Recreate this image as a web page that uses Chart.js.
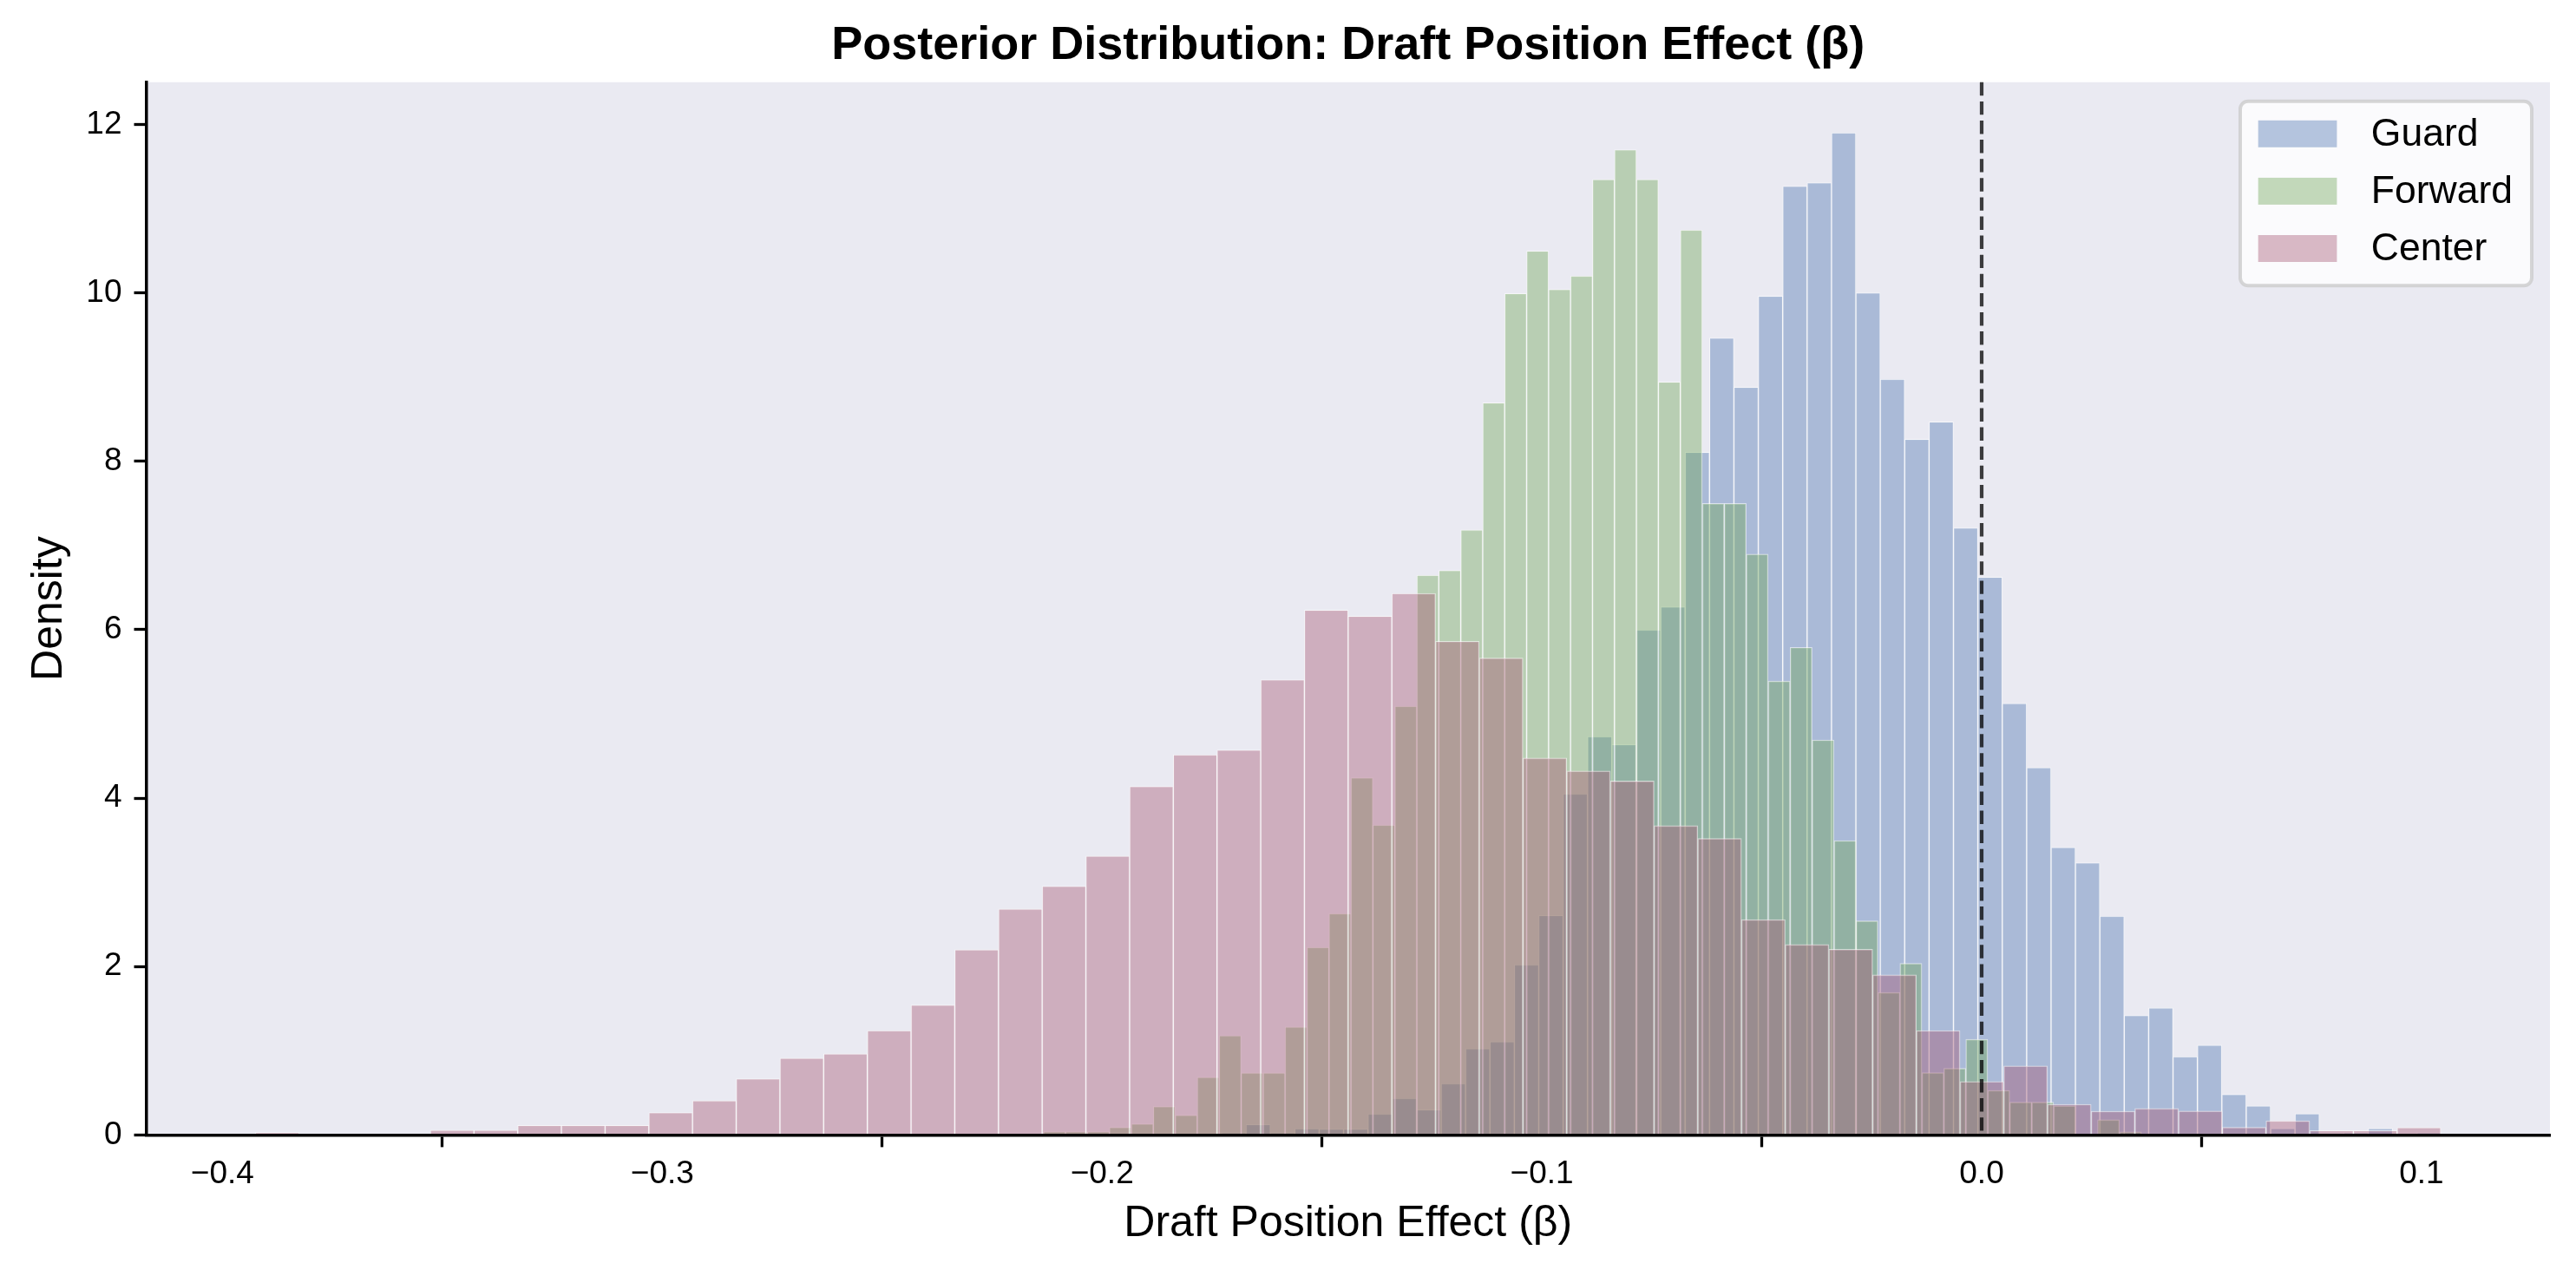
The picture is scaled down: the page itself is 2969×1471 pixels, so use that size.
<!DOCTYPE html>
<html>
<head>
<meta charset="utf-8">
<script src="https://cdn.jsdelivr.net/npm/chart.js@4.4.1/dist/chart.umd.min.js"></script>
<style>
  html, body { margin: 0; padding: 0; background: #fff; }
  #wrap { width: 2969px; height: 1471px; }
</style>
</head>
<body>
<div id="wrap"><canvas id="chart"></canvas></div>
<script>
const seriesNames = ['Guard', 'Forward', 'Center'];

// histogram bins: left edge of the first bin and bin width (β units), 50 bins each
const guardBinStart = -0.17282;
const guardBinWidth = 0.005547;
const forwardBinStart = -0.21331;
const forwardBinWidth = 0.004993;
const centerBinStart = -0.39250;
const centerBinWidth = 0.009938;

// density per bin
const guardDensity = [
  0.027, 0.124, 0.027, 0.075, 0.069, 0.069, 0.250, 0.435, 0.300, 0.610,
  1.025, 1.107, 2.021, 2.606, 4.050, 4.731, 4.635, 5.998, 6.271, 8.107,
  9.463, 8.878, 9.960, 11.267, 11.307, 11.901, 10.000, 8.974, 8.260, 8.468,
  7.209, 6.624, 5.124, 4.363, 3.416, 3.232, 2.598, 1.420, 1.510, 0.930,
  1.067, 0.481, 0.347, 0.079, 0.254, 0.000, 0.027, 0.079, 0.000, 0.027
];
const forwardDensity = [
  0.040, 0.040, 0.040, 0.090, 0.131, 0.338, 0.235, 0.686, 1.179, 0.738,
  0.738, 1.283, 2.229, 2.630, 4.242, 3.681, 5.092, 6.648, 6.704, 7.185,
  8.693, 9.992, 10.497, 10.040, 10.200, 11.347, 11.700, 11.347, 8.942, 10.746,
  7.498, 7.498, 6.897, 5.389, 5.790, 4.691, 3.496, 2.542, 1.692, 2.037,
  0.740, 0.790, 1.136, 0.529, 0.389, 0.389, 0.347, 0.000, 0.181, 0.038
];
const centerDensity = [
  0.028, 0.000, 0.000, 0.000, 0.057, 0.057, 0.114, 0.114, 0.114, 0.265,
  0.407, 0.667, 0.913, 0.965, 1.240, 1.543, 2.201, 2.683, 2.953, 3.313,
  4.138, 4.515, 4.571, 5.405, 6.231, 6.159, 6.431, 5.862, 5.662, 4.475,
  4.322, 4.202, 3.673, 3.520, 2.558, 2.261, 2.205, 1.901, 1.240, 0.635,
  0.820, 0.365, 0.282, 0.315, 0.285, 0.090, 0.168, 0.053, 0.053, 0.088
];

const xTicks = [-0.4, -0.3, -0.2, -0.1, 0.0, 0.1];
const yTicks = [0, 2, 4, 6, 8, 10, 12];
const xRange = [-0.41734, 0.12922];
const yRange = [0, 12.5];
const refLineX = 0;

const seriesColors = ['rgba(76,114,176,0.4)', 'rgba(110,165,85,0.4)', 'rgba(165,85,112,0.4)'];
const FONT = "'Liberation Sans', Arial, sans-serif";

function toBars(start, width, values) {
  return values.map((v, i) => ({ x: start + width * (i + 0.5), y: v }));
}

function fmtX(v) {
  const s = Math.abs(v).toFixed(1);
  return v < -1e-9 ? '\u2212' + s : s;
}

const hiddenX = {
  type: 'linear', display: false, position: 'bottom',
  min: xRange[0], max: xRange[1], offset: false
};

const plotBg = {
  id: 'plotBg',
  beforeDraw(chart) {
    const { ctx, chartArea: a } = chart;
    ctx.save();
    ctx.fillStyle = '#EAEAF2';
    ctx.fillRect(a.left, a.top, a.right - a.left, a.bottom - a.top);
    ctx.restore();
  }
};

const refLine = {
  id: 'refLine',
  afterDatasetsDraw(chart) {
    const { ctx, chartArea: a, scales } = chart;
    const px = scales.x.getPixelForValue(refLineX);
    ctx.save();
    ctx.strokeStyle = 'rgba(0,0,0,0.75)';
    ctx.lineWidth = 4.2;
    ctx.setLineDash([15.4, 6.7]);
    ctx.beginPath();
    ctx.moveTo(px, a.top);
    ctx.lineTo(px, a.bottom);
    ctx.stroke();
    ctx.restore();
  }
};

const boxLegend = {
  id: 'boxLegend',
  afterDraw(chart) {
    const { ctx, chartArea: a } = chart;
    const fontSize = 44.5;
    const padL = 20.7, patchW = 90.7, patchH = 31, gap = 39.4, padR = 22;
    const rowH = 66.1, firstRow = 37.5, boxH = 212.5;
    ctx.save();
    ctx.font = fontSize + 'px ' + FONT;
    const textW = Math.max(...seriesNames.map(n => ctx.measureText(n).width));
    const boxW = padL + patchW + gap + textW + padR;
    const right = a.right - 21;
    const left = right - boxW;
    const top = a.top + 22;
    ctx.beginPath();
    if (ctx.roundRect) ctx.roundRect(left, top, boxW, boxH, 9);
    else ctx.rect(left, top, boxW, boxH);
    ctx.fillStyle = 'rgba(255,255,255,0.8)';
    ctx.fill();
    ctx.lineWidth = 4;
    ctx.strokeStyle = 'rgba(204,204,204,0.8)';
    ctx.stroke();
    chart.data.datasets.forEach((ds, i) => {
      const cy = top + firstRow + i * rowH;
      ctx.fillStyle = ds.backgroundColor;
      ctx.fillRect(left + padL, cy - patchH / 2, patchW, patchH);
      ctx.fillStyle = '#000';
      ctx.textBaseline = 'middle';
      ctx.textAlign = 'left';
      ctx.fillText(ds.label, left + padL + patchW + gap, cy + 1);
    });
    ctx.restore();
  }
};

const datasets = [
  { label: seriesNames[0], data: toBars(guardBinStart, guardBinWidth, guardDensity), xAxisID: 'x', order: 3 },
  { label: seriesNames[1], data: toBars(forwardBinStart, forwardBinWidth, forwardDensity), xAxisID: 'xF', order: 2 },
  { label: seriesNames[2], data: toBars(centerBinStart, centerBinWidth, centerDensity), xAxisID: 'xC', order: 1 }
].map((ds, i) => Object.assign(ds, {
  backgroundColor: seriesColors[i],
  borderColor: 'rgba(255,255,255,0.55)',
  borderWidth: 1,
  barPercentage: 1,
  categoryPercentage: 1,
  grouped: false
}));

new Chart(document.getElementById('chart'), {
  type: 'bar',
  data: { datasets },
  plugins: [plotBg, refLine, boxLegend],
  options: {
    responsive: true,
    maintainAspectRatio: false,
    devicePixelRatio: 1,
    animation: false,
    layout: { padding: { left: 0, right: 30, top: 0, bottom: 0 } },
    plugins: {
      legend: { display: false },
      tooltip: { enabled: false },
      title: {
        display: true,
        fullSize: false,
        text: 'Posterior Distribution: Draft Position Effect (β)',
        color: '#000',
        font: { family: FONT, size: 54, weight: 'bold', lineHeight: 1.2 },
        padding: { top: 21, bottom: 9 }
      }
    },
    scales: {
      x: {
        type: 'linear', position: 'bottom',
        min: xRange[0], max: xRange[1], offset: false,
        afterBuildTicks: s => { s.ticks = xTicks.map(v => ({ value: v })); },
        afterFit: s => { s.height = 162.6; },
        ticks: {
          callback: v => fmtX(v), color: '#000', padding: 9,
          maxRotation: 0, autoSkip: false,
          font: { family: FONT, size: 37 }
        },
        grid: {
          display: true, drawOnChartArea: false, drawTicks: true,
          tickLength: 14, tickWidth: 3.3, tickColor: '#000'
        },
        border: { display: true, color: '#000', width: 3.5, z: 1 },
        title: {
          display: true, text: 'Draft Position Effect (β)', color: '#000',
          font: { family: FONT, size: 50, lineHeight: 1.2 },
          padding: { top: 0, bottom: 30 }
        }
      },
      xF: hiddenX,
      xC: Object.assign({}, hiddenX),
      y: {
        type: 'linear', position: 'left',
        min: yRange[0], max: yRange[1],
        afterBuildTicks: s => { s.ticks = yTicks.map(v => ({ value: v })); },
        afterFit: s => { s.width = 168.5; },
        ticks: {
          callback: v => String(v), color: '#000', padding: 14,
          font: { family: FONT, size: 37 }
        },
        grid: {
          display: true, drawOnChartArea: false, drawTicks: true,
          tickLength: 14, tickWidth: 3.3, tickColor: '#000'
        },
        border: { display: true, color: '#000', width: 3.5, z: 1 },
        title: {
          display: true, text: 'Density', color: '#000',
          font: { family: FONT, size: 50, lineHeight: 1.2 },
          padding: { top: 27, bottom: 0 }
        }
      }
    }
  }
});
</script>
</body>
</html>
